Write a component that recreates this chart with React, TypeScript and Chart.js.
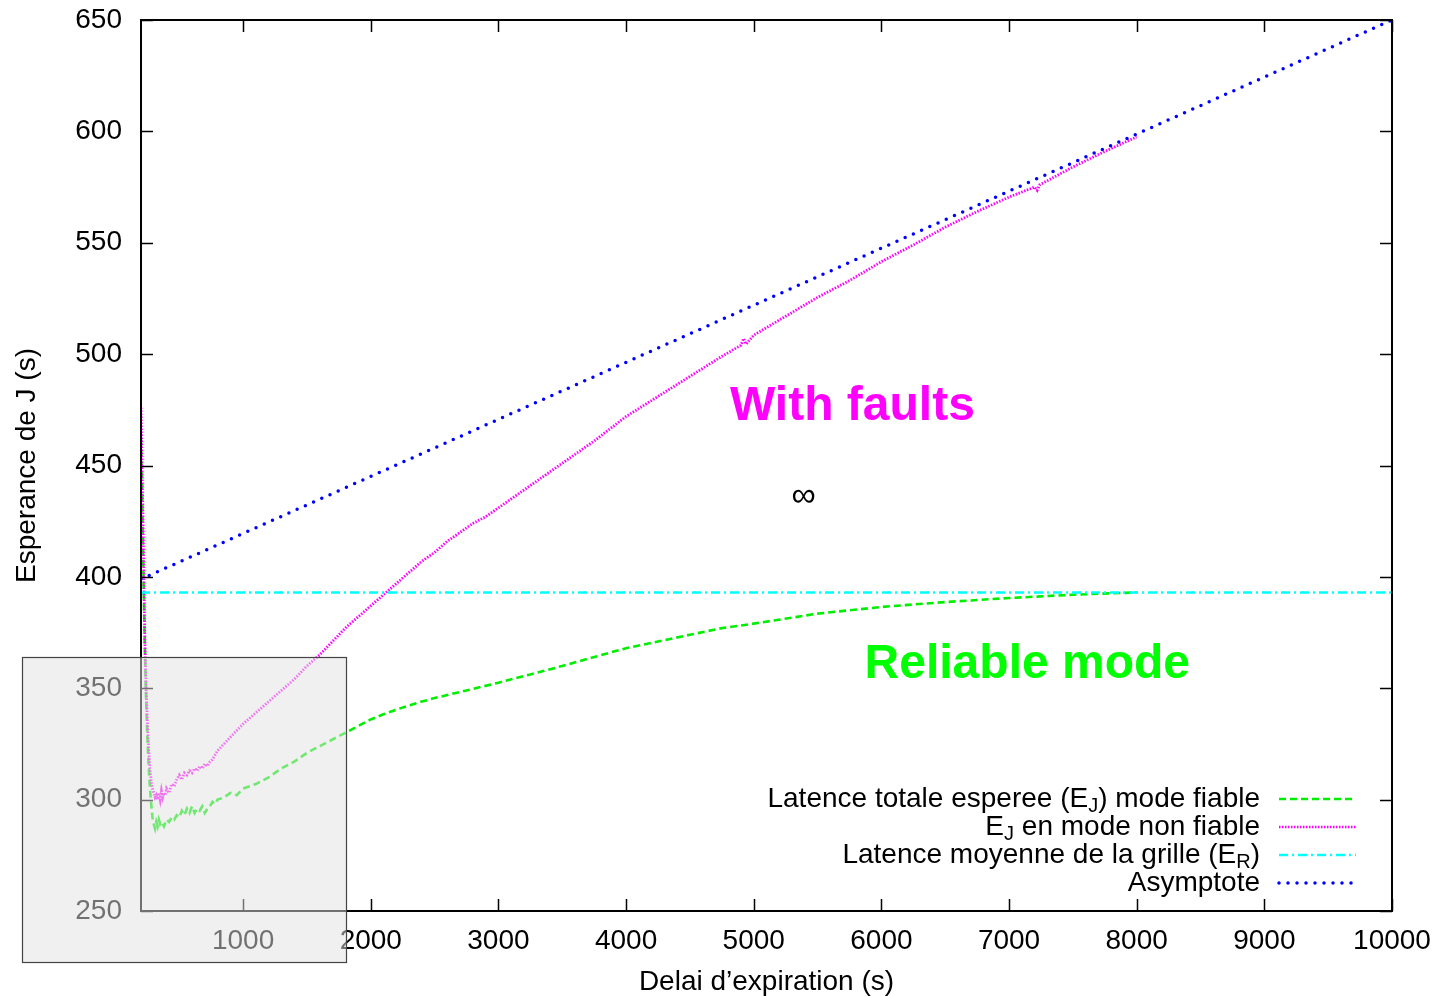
import React, { useEffect, useRef } from 'react';
import { Chart, registerables } from 'chart.js';

Chart.register(...registerables);

// ---- Axis ticks ----
const xTickValues = [1000, 2000, 3000, 4000, 5000, 6000, 7000, 8000, 9000, 10000];
const yTickValues = [250, 300, 350, 400, 450, 500, 550, 600, 650];

// ---- Series: Latence totale esperee (E_J) mode fiable ----
const reliableX = [200, 210, 220, 230, 240, 250, 260, 270, 280, 290, 300, 310, 320, 330, 340, 350, 360, 380, 400, 420, 440, 460, 480, 500, 520, 540, 560, 580, 600, 620, 640, 660, 680, 700, 720, 740, 760, 780, 800, 850, 900, 950, 1000, 1100, 1200, 1300, 1400, 1500, 1600, 1700, 1800, 1900, 2000, 2100, 2200, 2300, 2400, 2500, 2750, 3000, 3250, 3500, 3750, 4000, 4250, 4500, 4750, 5000, 5500, 6000, 6500, 7000, 7500, 8000];
const reliableY = [462, 430, 398, 368, 345, 328, 315, 305, 298, 292, 289, 287, 290, 288, 291, 289, 290, 288, 291, 290, 292, 291, 293, 292, 295, 293, 296, 294, 297, 294, 296, 295, 297, 294, 296, 297, 299, 298, 300, 301, 303, 302, 305, 307, 310, 314, 317, 321, 324, 327, 330, 333, 336, 338.3, 340.4, 342.3, 344, 345.6, 349, 352.5, 356.2, 360, 364, 368, 371, 374, 377, 379, 383.5, 386.5, 388.7, 390.5, 392, 393];

// ---- Series: E_J en mode non fiable ----
const unreliableX = [200, 210, 220, 230, 240, 250, 260, 270, 280, 290, 300, 310, 320, 330, 340, 350, 360, 370, 380, 390, 400, 420, 440, 460, 480, 500, 520, 540, 560, 580, 600, 620, 640, 660, 680, 700, 720, 740, 760, 780, 800, 850, 900, 950, 1000, 1100, 1200, 1300, 1400, 1500, 1600, 1700, 1800, 1900, 2000, 2100, 2200, 2300, 2400, 2500, 2600, 2700, 2800, 2900, 3000, 3250, 3500, 3750, 4000, 4250, 4500, 4750, 4900, 4920, 4940, 5000, 5250, 5500, 5750, 6000, 6250, 6500, 6750, 7000, 7200, 7220, 7240, 7500, 7750, 8000];
const unreliableY = [476, 445, 410, 372, 350, 335, 323, 314, 308, 305, 303, 301, 302, 300, 303, 300, 304, 301, 303, 302, 305, 303, 307, 306, 309, 311, 309, 312, 311, 313, 312, 314, 313, 315, 314, 316, 315, 317, 318, 320, 322, 325, 328, 331, 334, 339, 344, 349, 354, 360, 365, 371, 377, 382, 387, 392, 397, 402, 407, 411, 416, 420, 424, 427, 431, 441, 451, 461, 472, 481, 490, 499, 504, 507, 504.5, 508.5, 517, 525.5, 533, 541.5, 549, 557, 564, 570.5, 575, 573.5, 576, 584, 591, 597.5];

// ---- Series: Latence moyenne de la grille (E_R) ----
const gridLatencyX = [200, 10000];
const gridLatencyY = [393, 393];

// ---- Series: Asymptote ----
const asymptoteX = [200, 10000];
const asymptoteY = [399, 650];

const seriesColors = ['#00ee00', '#ff00ff', '#00ffff', '#0000ff'];

const legendRows = [
  [{ t: 'Latence totale esperee (E' }, { t: 'J', sub: true }, { t: ') mode fiable' }],
  [{ t: 'E' }, { t: 'J', sub: true }, { t: ' en mode non fiable' }],
  [{ t: 'Latence moyenne de la grille (E' }, { t: 'R', sub: true }, { t: ')' }],
  [{ t: 'Asymptote' }],
];

const annotations = [
  { text: 'With faults', x: 5773, y: 476.3, color: '#ff00ff', bold: true, size: 48 },
  { text: 'Reliable mode', x: 7143, y: 360.4, color: '#00ff00', bold: true, size: 48 },
  { text: '\u221E', x: 5390, y: 436, color: '#000000', bold: false, size: 34 },
];

// grey overlay box in data units
const overlayBox = { x0: -730, x1: 1810, y0: 364, y1: 227 };

const FONT = "'Liberation Sans', Arial, sans-serif";

const toPoints = (xs: number[], ys: number[]) => xs.map((x, i) => ({ x, y: ys[i] }));

export default function App() {
  const canvasRef = useRef<HTMLCanvasElement | null>(null);

  useEffect(() => {
    const canvas = canvasRef.current;
    if (!canvas) return;

    const framePlugin = {
      id: 'gnuplotFrame',
      afterDraw(chart: any) {
        const ctx = chart.ctx as CanvasRenderingContext2D;
        const { left, right, top, bottom } = chart.chartArea;
        const xs = chart.scales.x;
        const ys = chart.scales.y;
        ctx.save();
        // ticks inward
        ctx.strokeStyle = '#000';
        ctx.lineWidth = 1.5;
        const tl = 12;
        ctx.beginPath();
        xTickValues.forEach((v) => {
          const px = Math.round(xs.getPixelForValue(v)) + 0.5;
          ctx.moveTo(px, bottom);
          ctx.lineTo(px, bottom - tl);
          ctx.moveTo(px, top);
          ctx.lineTo(px, top + tl);
        });
        yTickValues.forEach((v) => {
          const py = Math.round(ys.getPixelForValue(v)) + 0.5;
          ctx.moveTo(left, py);
          ctx.lineTo(left + tl, py);
          ctx.moveTo(right, py);
          ctx.lineTo(right - tl, py);
        });
        ctx.stroke();
        // frame
        ctx.lineWidth = 2;
        ctx.strokeRect(left, top, right - left, bottom - top);

        // legend
        const mainFont = `28px ${FONT}`;
        const subFont = `20px ${FONT}`;
        const textRight = 1260;
        const rowY0 = 799;
        const rowStep = 28;
        const dashes = [[7, 4], [1.5, 1.5], [9, 4, 2, 4], [0, 9]];
        ctx.textBaseline = 'middle';
        ctx.textAlign = 'left';
        legendRows.forEach((segs: any[], r) => {
          const y = rowY0 + r * rowStep;
          const widths = segs.map((s) => {
            ctx.font = s.sub ? subFont : mainFont;
            return ctx.measureText(s.t).width;
          });
          const total = widths.reduce((a, b) => a + b, 0);
          let x = textRight - total;
          ctx.fillStyle = '#000';
          segs.forEach((s, i) => {
            ctx.font = s.sub ? subFont : mainFont;
            ctx.fillText(s.t, x, y + (s.sub ? 7 : 0));
            x += widths[i];
          });
          ctx.beginPath();
          ctx.strokeStyle = seriesColors[r];
          ctx.lineWidth = r === 3 ? 3.5 : 2.5;
          ctx.lineCap = r === 3 ? 'round' : 'butt';
          ctx.setLineDash(dashes[r]);
          ctx.moveTo(1279, y);
          ctx.lineTo(1356, y);
          ctx.stroke();
          ctx.setLineDash([]);
          ctx.lineCap = 'butt';
        });

        // annotations
        ctx.textAlign = 'center';
        ctx.textBaseline = 'middle';
        annotations.forEach((a) => {
          ctx.font = `${a.bold ? 'bold ' : ''}${a.size}px ${FONT}`;
          ctx.fillStyle = a.color;
          ctx.fillText(a.text, xs.getPixelForValue(a.x), ys.getPixelForValue(a.y));
        });

        // grey overlay
        const bx0 = xs.getPixelForValue(overlayBox.x0);
        const bx1 = xs.getPixelForValue(overlayBox.x1);
        const by0 = ys.getPixelForValue(overlayBox.y0);
        const by1 = ys.getPixelForValue(overlayBox.y1);
        ctx.fillStyle = 'rgba(225,225,225,0.5)';
        ctx.fillRect(bx0, by0, bx1 - bx0, by1 - by0);
        ctx.strokeStyle = '#444';
        ctx.lineWidth = 1.2;
        ctx.strokeRect(Math.round(bx0) + 0.5, Math.round(by0) + 0.5, Math.round(bx1 - bx0), Math.round(by1 - by0));
        ctx.restore();
      },
    };

    const chart = new Chart(canvas, {
      type: 'line',
      data: {
        datasets: [
          {
            label: 'Asymptote',
            data: toPoints(asymptoteX, asymptoteY),
            borderColor: seriesColors[3],
            borderWidth: 3.5,
            borderDash: [0, 9],
            borderCapStyle: 'round',
            pointRadius: 0,
            fill: false,
            order: 0,
          },
          {
            label: 'Latence moyenne de la grille (E_R)',
            data: toPoints(gridLatencyX, gridLatencyY),
            borderColor: seriesColors[2],
            borderWidth: 2.5,
            borderDash: [9, 4, 2, 4],
            pointRadius: 0,
            fill: false,
            order: 1,
          },
          {
            label: 'E_J en mode non fiable',
            data: toPoints(unreliableX, unreliableY),
            borderColor: seriesColors[1],
            borderWidth: 2.8,
            borderDash: [1.5, 1.5],
            pointRadius: 0,
            fill: false,
            order: 2,
          },
          {
            label: 'Latence totale esperee (E_J) mode fiable',
            data: toPoints(reliableX, reliableY),
            borderColor: seriesColors[0],
            borderWidth: 2.6,
            borderDash: [7, 4],
            pointRadius: 0,
            fill: false,
            order: 3,
          },
        ],
      },
      options: {
        animation: false,
        responsive: false,
        layout: { padding: { left: 0, right: 47, top: 20, bottom: 0 } },
        plugins: {
          legend: { display: false },
          tooltip: { enabled: false },
        },
        scales: {
          x: {
            type: 'linear',
            min: 200,
            max: 10000,
            afterBuildTicks: (s: any) => {
              s.ticks = xTickValues.map((v) => ({ value: v }));
            },
            afterFit: (s: any) => {
              s.height = 85;
              s.paddingLeft = 0;
              s.paddingRight = 0;
            },
            grid: { display: false, drawTicks: false },
            border: { display: false },
            ticks: {
              autoSkip: false,
              maxRotation: 0,
              padding: 13,
              color: '#000',
              font: { family: FONT, size: 28 },
              callback: (v: any) => String(v),
            },
            title: {
              display: true,
              text: "Delai d\u2019expiration (s)",
              color: '#000',
              font: { family: FONT, size: 28, lineHeight: 1 },
              padding: { top: 0, bottom: 0 },
            },
          },
          y: {
            type: 'linear',
            min: 250,
            max: 650,
            afterBuildTicks: (s: any) => {
              s.ticks = yTickValues.map((v) => ({ value: v }));
            },
            afterFit: (s: any) => {
              s.width = 141;
              s.paddingTop = 0;
              s.paddingBottom = 0;
            },
            grid: { display: false, drawTicks: false },
            border: { display: false },
            ticks: {
              padding: 19,
              color: '#000',
              font: { family: FONT, size: 28 },
              callback: (v: any) => String(v),
            },
            title: {
              display: true,
              text: 'Esperance de J (s)',
              color: '#000',
              font: { family: FONT, size: 28 },
              padding: { top: 10, bottom: 0 },
            },
          },
        },
      },
      plugins: [framePlugin],
    } as any);

    return () => chart.destroy();
  }, []);

  return (
    <div style={{ position: 'fixed', left: 0, top: 0, width: 1439, height: 996, background: '#fff' }}>
      <canvas ref={canvasRef} width={1439} height={996} style={{ display: 'block' }} />
    </div>
  );
}
